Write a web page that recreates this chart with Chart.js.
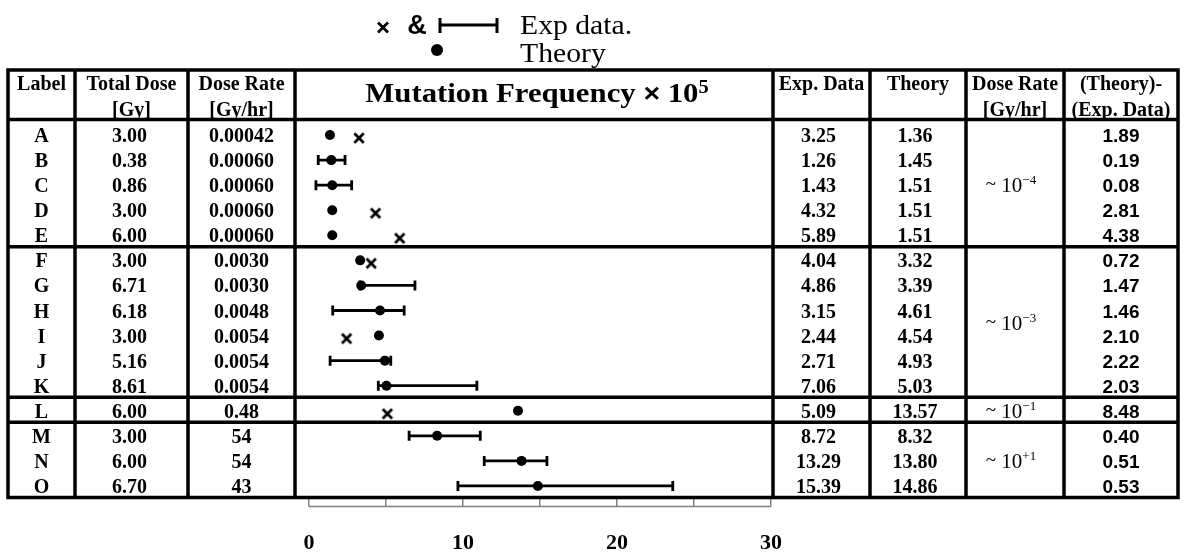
<!DOCTYPE html>
<html>
<head>
<meta charset="utf-8">
<title>Mutation frequency vs dose rate</title>
<script src="https://cdn.jsdelivr.net/npm/chart.js@4.4.1/dist/chart.umd.min.js"></script>
<style>
  html, body { margin: 0; padding: 0; background: #fff; }
  canvas { display: block; }
</style>
</head>
<body>
<canvas id="chart" width="1183" height="559"></canvas>
<script>
const labels = ['A', 'B', 'C', 'D', 'E', 'F', 'G', 'H', 'I', 'J', 'K', 'L', 'M', 'N', 'O'];
const totalDose = [3.00, 0.38, 0.86, 3.00, 6.00, 3.00, 6.71, 6.18, 3.00, 5.16, 8.61, 6.00, 3.00, 6.00, 6.70];
const doseRate = ['0.00042', '0.00060', '0.00060', '0.00060', '0.00060', '0.0030', '0.0030', '0.0048',
                  '0.0054', '0.0054', '0.0054', '0.48', '54', '54', '43'];
const expData = [3.25, 1.26, 1.43, 4.32, 5.89, 4.04, 4.86, 3.15, 2.44, 2.71, 7.06, 5.09, 8.72, 13.29, 15.39];
const theory = [1.36, 1.45, 1.51, 1.51, 1.51, 3.32, 3.39, 4.61, 4.54, 4.93, 5.03, 13.57, 8.32, 13.80, 14.86];
const difference = [1.89, 0.19, 0.08, 2.81, 4.38, 0.72, 1.47, 1.46, 2.10, 2.22, 2.03, 8.48, 0.40, 0.51, 0.53];
// experimental range; null where only the single value is plotted
const errLow = [null, 0.60, 0.45, null, null, null, 3.3, 1.54, null, 1.37, 4.5, null, 6.5, 11.38, 9.67];
const errHigh = [null, 2.34, 2.77, null, null, null, 6.88, 6.18, null, 5.31, 10.9, null, 11.12, 15.45, 23.62];
// rows grouped by order of magnitude of the dose rate
const groupStart = [0, 5, 11, 12];
const groupExponent = ['\u22124', '\u22123', '\u22121', '+1'];
const xTicks = [0, 10, 20, 30];

const serif = '"Liberation Serif", "Times New Roman", serif';
const sans = '"Liberation Sans", Arial, sans-serif';

// column edges of the table, left to right
const colEdges = [8, 75, 188, 295, 773, 870, 966, 1064, 1178];
const tableTop = 70;
const colMid = i => (colEdges[i] + colEdges[i + 1]) / 2;

// the x marker sits a little below the row centre
const crossImg = document.createElement('canvas');
crossImg.width = 14;
crossImg.height = 20;
{
    const c = crossImg.getContext('2d');
    c.strokeStyle = '#000';
    c.lineWidth = 2.7;
    c.beginPath();
    c.moveTo(2.3, 8.3); c.lineTo(11.7, 17.7);
    c.moveTo(11.7, 8.3); c.lineTo(2.3, 17.7);
    c.stroke();
}

// draws a run of differently styled text pieces on one baseline
function runs(ctx, parts, x, baseline, sx = 1, align = 'center') {
    let w = 0;
    const widths = parts.map(p => {
        ctx.font = p[1];
        const pw = ctx.measureText(p[0]).width;
        w += pw;
        return pw;
    });
    ctx.save();
    ctx.translate(x, baseline);
    ctx.scale(sx, 1);
    ctx.textAlign = 'left';
    ctx.textBaseline = 'alphabetic';
    ctx.fillStyle = '#000';
    let cx = align === 'center' ? -w / 2 : 0;
    parts.forEach((p, i) => {
        ctx.font = p[1];
        ctx.fillText(p[0], cx, -(p[2] || 0));
        cx += widths[i];
    });
    ctx.restore();
}

function text(ctx, str, x, baseline, font) {
    runs(ctx, [[str, font]], x, baseline);
}

const tablePlugin = {
    id: 'table',
    beforeDatasetsDraw(chart) {
        const ctx = chart.ctx;
        const xs = chart.scales.x;
        const ys = chart.scales.y;
        const band = ys.getPixelForValue(1) - ys.getPixelForValue(0);
        const rowTop = i => ys.getPixelForValue(i) - band / 2;
        const bottom = ys.getPixelForValue(labels.length - 1) + band / 2 - 1;

        // grid lines
        ctx.save();
        ctx.strokeStyle = '#000';
        ctx.lineWidth = 3.5;
        ctx.lineCap = 'square';
        const hLines = [tableTop, rowTop(0) - 3].concat(groupStart.slice(1).map(g => rowTop(g) - 1), [bottom]);
        ctx.beginPath();
        hLines.forEach(y => {
            ctx.moveTo(colEdges[0], y);
            ctx.lineTo(colEdges[colEdges.length - 1], y);
        });
        colEdges.forEach(x => {
            ctx.moveTo(x, tableTop);
            ctx.lineTo(x, bottom);
        });
        ctx.stroke();
        ctx.restore();

        // header
        const hFont = 'bold 20px ' + serif;
        text(ctx, 'Label', colMid(0), 90, hFont);
        text(ctx, 'Total Dose', colMid(1), 90, hFont);
        text(ctx, '[Gy]', colMid(1), 116, hFont);
        text(ctx, 'Dose Rate', colMid(2), 90, hFont);
        text(ctx, '[Gy/hr]', colMid(2), 116, hFont);
        text(ctx, 'Exp. Data', colMid(4), 90, hFont);
        text(ctx, 'Theory', colMid(5), 90, hFont);
        text(ctx, 'Dose Rate', colMid(6), 90, hFont);
        text(ctx, '[Gy/hr]', colMid(6), 116, hFont);
        text(ctx, '(Theory)-', colMid(7), 90, hFont);
        text(ctx, '(Exp. Data)', colMid(7), 116, hFont);
        runs(ctx, [
            ['Mutation Frequency ', 'bold 27px ' + serif],
            ['\u00d7', 'bold 25px ' + sans],
            [' 10', 'bold 27px ' + serif],
            ['5', 'bold 18px ' + serif, 9]
        ], 537, 102, 1.14);

        // body rows
        const bFont = 'bold 20px ' + serif;
        labels.forEach((lab, i) => {
            const y = ys.getPixelForValue(i) + 7;
            text(ctx, lab, colMid(0), y, bFont);
            text(ctx, totalDose[i].toFixed(2), colMid(1) - 2, y, bFont);
            text(ctx, doseRate[i], colMid(2), y, bFont);
            text(ctx, expData[i].toFixed(2), colMid(4) - 3, y, bFont);
            text(ctx, theory[i].toFixed(2), colMid(5) - 3, y, bFont);
            text(ctx, difference[i].toFixed(2), colMid(7), y, 'bold 19px ' + sans);
        });

        // dose-rate order of magnitude per group
        groupStart.forEach((g, k) => {
            const end = k + 1 < groupStart.length ? groupStart[k + 1] : labels.length;
            const cy = (rowTop(g) + rowTop(end)) / 2;
            runs(ctx, [
                ['~', '19px ' + serif, 2],
                [' 10', '21px ' + serif],
                [groupExponent[k], '13px ' + serif, 8]
            ], colMid(6) - 4, cy + 7);
        });

        // error bars of the experimental data
        ctx.save();
        ctx.strokeStyle = '#000';
        ctx.lineWidth = 2.8;
        ctx.beginPath();
        labels.forEach((lab, i) => {
            if (errLow[i] == null) return;
            const y = ys.getPixelForValue(i);
            const x1 = xs.getPixelForValue(errLow[i]);
            const x2 = xs.getPixelForValue(errHigh[i]);
            ctx.moveTo(x1, y); ctx.lineTo(x2, y);
            ctx.moveTo(x1, y - 5); ctx.lineTo(x1, y + 5);
            ctx.moveTo(x2, y - 5); ctx.lineTo(x2, y + 5);
        });
        ctx.stroke();
        ctx.restore();
    },
    afterDraw(chart) {
        const ctx = chart.ctx;
        const xs = chart.scales.x;

        // axis base line under the tick marks
        ctx.save();
        ctx.strokeStyle = '#808080';
        ctx.lineWidth = 1.5;
        ctx.beginPath();
        ctx.moveTo(xs.getPixelForValue(xTicks[0]), xs.top + 8);
        ctx.lineTo(xs.getPixelForValue(xTicks[xTicks.length - 1]), xs.top + 8);
        ctx.stroke();

        // legend
        ctx.strokeStyle = '#000';
        ctx.fillStyle = '#000';
        ctx.lineWidth = 2.8;
        ctx.beginPath();
        ctx.moveTo(378, 22.5); ctx.lineTo(388, 32.5);
        ctx.moveTo(388, 22.5); ctx.lineTo(378, 32.5);
        ctx.stroke();
        ctx.lineWidth = 3;
        ctx.beginPath();
        ctx.moveTo(440, 25); ctx.lineTo(497, 25);
        ctx.moveTo(440, 18); ctx.lineTo(440, 33);
        ctx.moveTo(497, 18); ctx.lineTo(497, 33);
        ctx.stroke();
        ctx.beginPath();
        ctx.arc(437, 50, 6, 0, Math.PI * 2);
        ctx.fill();
        ctx.restore();
        text(ctx, '&', 417, 34, 'bold 27px ' + sans);
        runs(ctx, [['Exp data.', '27px ' + serif]], 520, 34, 1.1, 'left');
        runs(ctx, [['Theory', '27px ' + serif]], 520, 62, 1.1, 'left');
    }
};

new Chart(document.getElementById('chart'), {
    type: 'scatter',
    data: {
        datasets: [
            {
                label: 'Theory',
                data: labels.map((lab, i) => ({ x: theory[i], y: lab })),
                pointStyle: 'circle',
                pointRadius: 5,
                backgroundColor: '#000',
                borderWidth: 0,
                clip: false
            },
            {
                label: 'Exp data.',
                data: labels.map((lab, i) => errLow[i] == null ? { x: expData[i], y: lab } : null)
                    .filter(Boolean),
                pointStyle: crossImg,
                clip: false
            }
        ]
    },
    options: {
        responsive: false,
        animation: false,
        events: [],
        layout: { padding: { left: 309, right: 412, top: 122.5, bottom: 0 } },
        plugins: { legend: { display: false }, tooltip: { enabled: false } },
        scales: {
            x: {
                type: 'linear',
                min: 0,
                max: 30,
                afterFit(scale) { scale.height = 60.5; },
                ticks: {
                    stepSize: 5,
                    autoSkip: false,
                    maxRotation: 0,
                    padding: 24,
                    color: '#000',
                    font: { family: serif, size: 22, weight: 'bold' },
                    callback: v => xTicks.includes(v) ? String(v) : ''
                },
                grid: { drawOnChartArea: false, drawTicks: true, tickLength: 8, color: '#808080', lineWidth: 1.5 },
                border: { display: false }
            },
            y: {
                type: 'category',
                labels: labels,
                offset: true,
                display: false
            }
        }
    },
    plugins: [tablePlugin]
});
</script>
</body>
</html>
